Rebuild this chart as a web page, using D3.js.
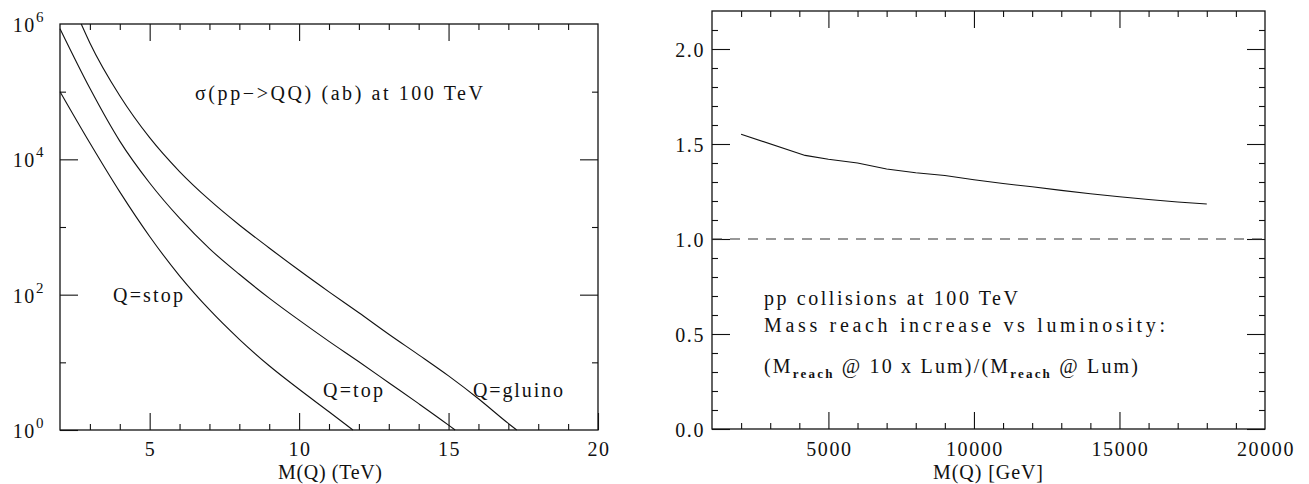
<!DOCTYPE html>
<html>
<head>
<meta charset="utf-8">
<script src="https://cdn.jsdelivr.net/npm/d3@7"></script>
<style>
  body { margin: 0; background: #fff; }
  svg text { font-family: "Liberation Serif", serif; font-size: 20px; fill: #111; }
  svg text.num { letter-spacing: 1.6px; }
  .tick line { stroke: #111; stroke-width: 1.1; }
</style>
</head>
<body>
<svg id="chart" width="1309" height="484"></svg>
<script>
// left panel: sigma(pp -> QQ) in ab at 100 TeV, mass in TeV
const stopMass = [2, 3, 4, 5, 6, 7, 8, 9, 10, 11, 11.8];
const stopXsec = [1.0e5, 1.74e4, 3.3e3, 724, 190, 60, 21.9, 8.9, 4.0, 1.86, 1.0];

const topMass = [2, 3, 4, 5, 6, 7, 8, 9, 10, 11, 12, 13, 14, 15, 15.22];
const topXsec = [8.5e5, 1.12e5, 1.86e4, 4.47e3, 1.35e3, 479, 200, 89, 42, 20.4, 10.2, 5.0, 2.45, 1.18, 1.0];

const gluinoMass = [2.71, 3, 4, 5, 6, 7, 8, 9, 10, 11, 12, 13, 14, 15, 16, 17, 17.28];
const gluinoXsec = [1.0e6, 5.25e5, 8.7e4, 2.09e4, 6.6e3, 2.51e3, 1.07e3, 490, 229, 110, 54, 26, 12.9, 6.3, 2.9, 1.25, 1.0];

// right panel: mass reach ratio (10x lumi / lumi) vs mass in GeV
const reachMass = [2000, 4200, 5000, 6000, 7000, 8000, 9000, 10000, 11000, 12000, 13000, 14000, 15000, 16000, 17000, 18000];
const reachRatio = [1.551, 1.440, 1.420, 1.400, 1.368, 1.349, 1.334, 1.312, 1.292, 1.275, 1.256, 1.238, 1.222, 1.208, 1.195, 1.184];

const leftXLabels = [5, 10, 15, 20];
const leftYExp = [0, 2, 4, 6];
const rightXLabels = [5000, 10000, 15000, 20000];
const rightYLabels = [0, 0.5, 1.0, 1.5, 2.0];

const svg = d3.select("#chart");

// ---------- left panel ----------
const L = { left: 60, right: 598, top: 24, bottom: 430 };
const x1 = d3.scaleLinear().domain([2, 20]).range([L.left, L.right]);
const y1 = d3.scaleLog().domain([1, 1e6]).range([L.bottom, L.top]);

const g1 = svg.append("g");

function ticks(g, axisFn, scale, vals, size, pos) {
  g.append("g")
    .attr("transform", pos)
    .call(axisFn(scale).tickValues(vals).tickSize(size).tickFormat(""))
    .call(s => s.select(".domain").remove());
}

const x1Minor = d3.range(3, 20).filter(d => d % 5 !== 0);
const x1Major = [5, 10, 15];
ticks(g1, d3.axisBottom, x1, x1Minor, -6, `translate(0,${L.bottom})`);
ticks(g1, d3.axisBottom, x1, x1Major, -17, `translate(0,${L.bottom})`);
ticks(g1, d3.axisTop, x1, x1Minor, -6, `translate(0,${L.top})`);
ticks(g1, d3.axisTop, x1, x1Major, -17, `translate(0,${L.top})`);

const y1Minor = [10, 1e3, 1e5];
const y1Major = [1e2, 1e4];
ticks(g1, d3.axisLeft, y1, y1Minor, -6, `translate(${L.left},0)`);
ticks(g1, d3.axisLeft, y1, y1Major, -18, `translate(${L.left},0)`);
ticks(g1, d3.axisRight, y1, y1Minor, -6, `translate(${L.right},0)`);
ticks(g1, d3.axisRight, y1, y1Major, -18, `translate(${L.right},0)`);
// corner major ticks
ticks(g1, d3.axisLeft, y1, [1], -18, `translate(${L.left},0)`);
ticks(g1, d3.axisBottom, x1, [20], -17, `translate(0,${L.bottom})`);

g1.append("rect")
  .attr("x", L.left).attr("y", L.top)
  .attr("width", L.right - L.left).attr("height", L.bottom - L.top)
  .attr("fill", "none").attr("stroke", "#111").attr("stroke-width", 1.3);

const line1 = d3.line()
  .x(d => x1(d[0]))
  .y(d => y1(d[1]))
  .curve(d3.curveMonotoneX);

[[stopMass, stopXsec], [topMass, topXsec], [gluinoMass, gluinoXsec]].forEach(([m, s]) => {
  g1.append("path")
    .datum(d3.zip(m, s))
    .attr("d", line1)
    .attr("fill", "none")
    .attr("stroke", "#111")
    .attr("stroke-width", 1.1);
});

// tick labels
g1.selectAll(".xl").data(leftXLabels).join("text")
  .attr("class", "num")
  .attr("x", d => x1(d) + 1).attr("y", 456)
  .attr("text-anchor", "middle")
  .text(d => d);

leftYExp.forEach(e => {
  const t = g1.append("text")
    .attr("class", "num")
    .attr("x", 45).attr("y", y1(Math.pow(10, e)) + 8)
    .attr("text-anchor", "end");
  t.append("tspan").text("10");
  t.append("tspan").attr("dy", -10).attr("font-size", 15).text(e);
});

g1.append("text").attr("x", 278).attr("y", 479)
  .attr("textLength", 104).attr("lengthAdjust", "spacing")
  .text("M(Q) (TeV)");

g1.append("text").attr("x", 195).attr("y", 100)
  .attr("textLength", 288).attr("lengthAdjust", "spacing")
  .text("σ(pp−>QQ) (ab) at 100 TeV");
g1.append("text").attr("x", 113).attr("y", 302)
  .attr("textLength", 70).attr("lengthAdjust", "spacing")
  .text("Q=stop");
g1.append("text").attr("x", 323).attr("y", 397)
  .attr("textLength", 60).attr("lengthAdjust", "spacing")
  .text("Q=top");
g1.append("text").attr("x", 473).attr("y", 397)
  .attr("textLength", 90).attr("lengthAdjust", "spacing")
  .text("Q=gluino");

// ---------- right panel ----------
const R = { left: 712, right: 1265, top: 11, bottom: 429 };
const x2 = d3.scaleLinear().domain([1000, 20000]).range([R.left, R.right]);
const y2 = d3.scaleLinear().domain([0, 2.2]).range([R.bottom, R.top]);

const g2 = svg.append("g");

const x2Minor = d3.range(2000, 20000, 1000).filter(d => d % 5000 !== 0);
const x2Major = [5000, 10000, 15000];
ticks(g2, d3.axisBottom, x2, x2Minor, -6, `translate(0,${R.bottom})`);
ticks(g2, d3.axisBottom, x2, x2Major, -17, `translate(0,${R.bottom})`);
ticks(g2, d3.axisTop, x2, x2Minor, -6, `translate(0,${R.top})`);
ticks(g2, d3.axisTop, x2, x2Major, -17, `translate(0,${R.top})`);

const y2Minor = d3.range(1, 22).map(d => d / 10).filter(d => Math.round(d * 10) % 5 !== 0);
const y2Major = [0, 0.5, 1.0, 1.5, 2.0];
ticks(g2, d3.axisLeft, y2, y2Minor, -6, `translate(${R.left},0)`);
ticks(g2, d3.axisLeft, y2, y2Major, -18, `translate(${R.left},0)`);
ticks(g2, d3.axisRight, y2, y2Minor, -6, `translate(${R.right},0)`);
ticks(g2, d3.axisRight, y2, y2Major, -18, `translate(${R.right},0)`);

g2.append("rect")
  .attr("x", R.left).attr("y", R.top)
  .attr("width", R.right - R.left).attr("height", R.bottom - R.top)
  .attr("fill", "none").attr("stroke", "#111").attr("stroke-width", 1.3);

// reference line at ratio 1
g2.append("line")
  .attr("x1", R.left).attr("x2", R.right)
  .attr("y1", y2(1)).attr("y2", y2(1))
  .attr("stroke", "#333").attr("stroke-width", 1.2)
  .attr("stroke-dasharray", "10,8");

g2.append("path")
  .datum(d3.zip(reachMass, reachRatio))
  .attr("d", d3.line().x(d => x2(d[0])).y(d => y2(d[1])))
  .attr("fill", "none")
  .attr("stroke", "#111")
  .attr("stroke-width", 1.1);

g2.selectAll(".xl").data(rightXLabels).join("text")
  .attr("class", "num")
  .attr("x", d => x2(d) + 1).attr("y", 456)
  .attr("text-anchor", "middle")
  .text(d => d);

g2.selectAll(".yl").data(rightYLabels).join("text")
  .attr("class", "num")
  .attr("x", 705).attr("y", d => y2(d) + 8)
  .attr("text-anchor", "end")
  .text(d => d.toFixed(1));

g2.append("text").attr("x", 933).attr("y", 479)
  .attr("textLength", 110).attr("lengthAdjust", "spacing")
  .text("M(Q) [GeV]");

g2.append("text").attr("x", 764).attr("y", 305)
  .attr("textLength", 254).attr("lengthAdjust", "spacing")
  .text("pp collisions at 100 TeV");
g2.append("text").attr("x", 764).attr("y", 332)
  .attr("textLength", 401).attr("lengthAdjust", "spacing")
  .text("Mass reach increase vs luminosity:");

const ratioText = g2.append("text").attr("x", 764).attr("y", 373)
  .attr("textLength", 374).attr("lengthAdjust", "spacing");
ratioText.append("tspan").text("(M");
ratioText.append("tspan").attr("dy", 5).attr("font-size", 13).attr("font-weight", "bold").text("reach");
ratioText.append("tspan").attr("dy", -5).text(" @ 10 x Lum)/(M");
ratioText.append("tspan").attr("dy", 5).attr("font-size", 13).attr("font-weight", "bold").text("reach");
ratioText.append("tspan").attr("dy", -5).text(" @ Lum)");
</script>
</body>
</html>
